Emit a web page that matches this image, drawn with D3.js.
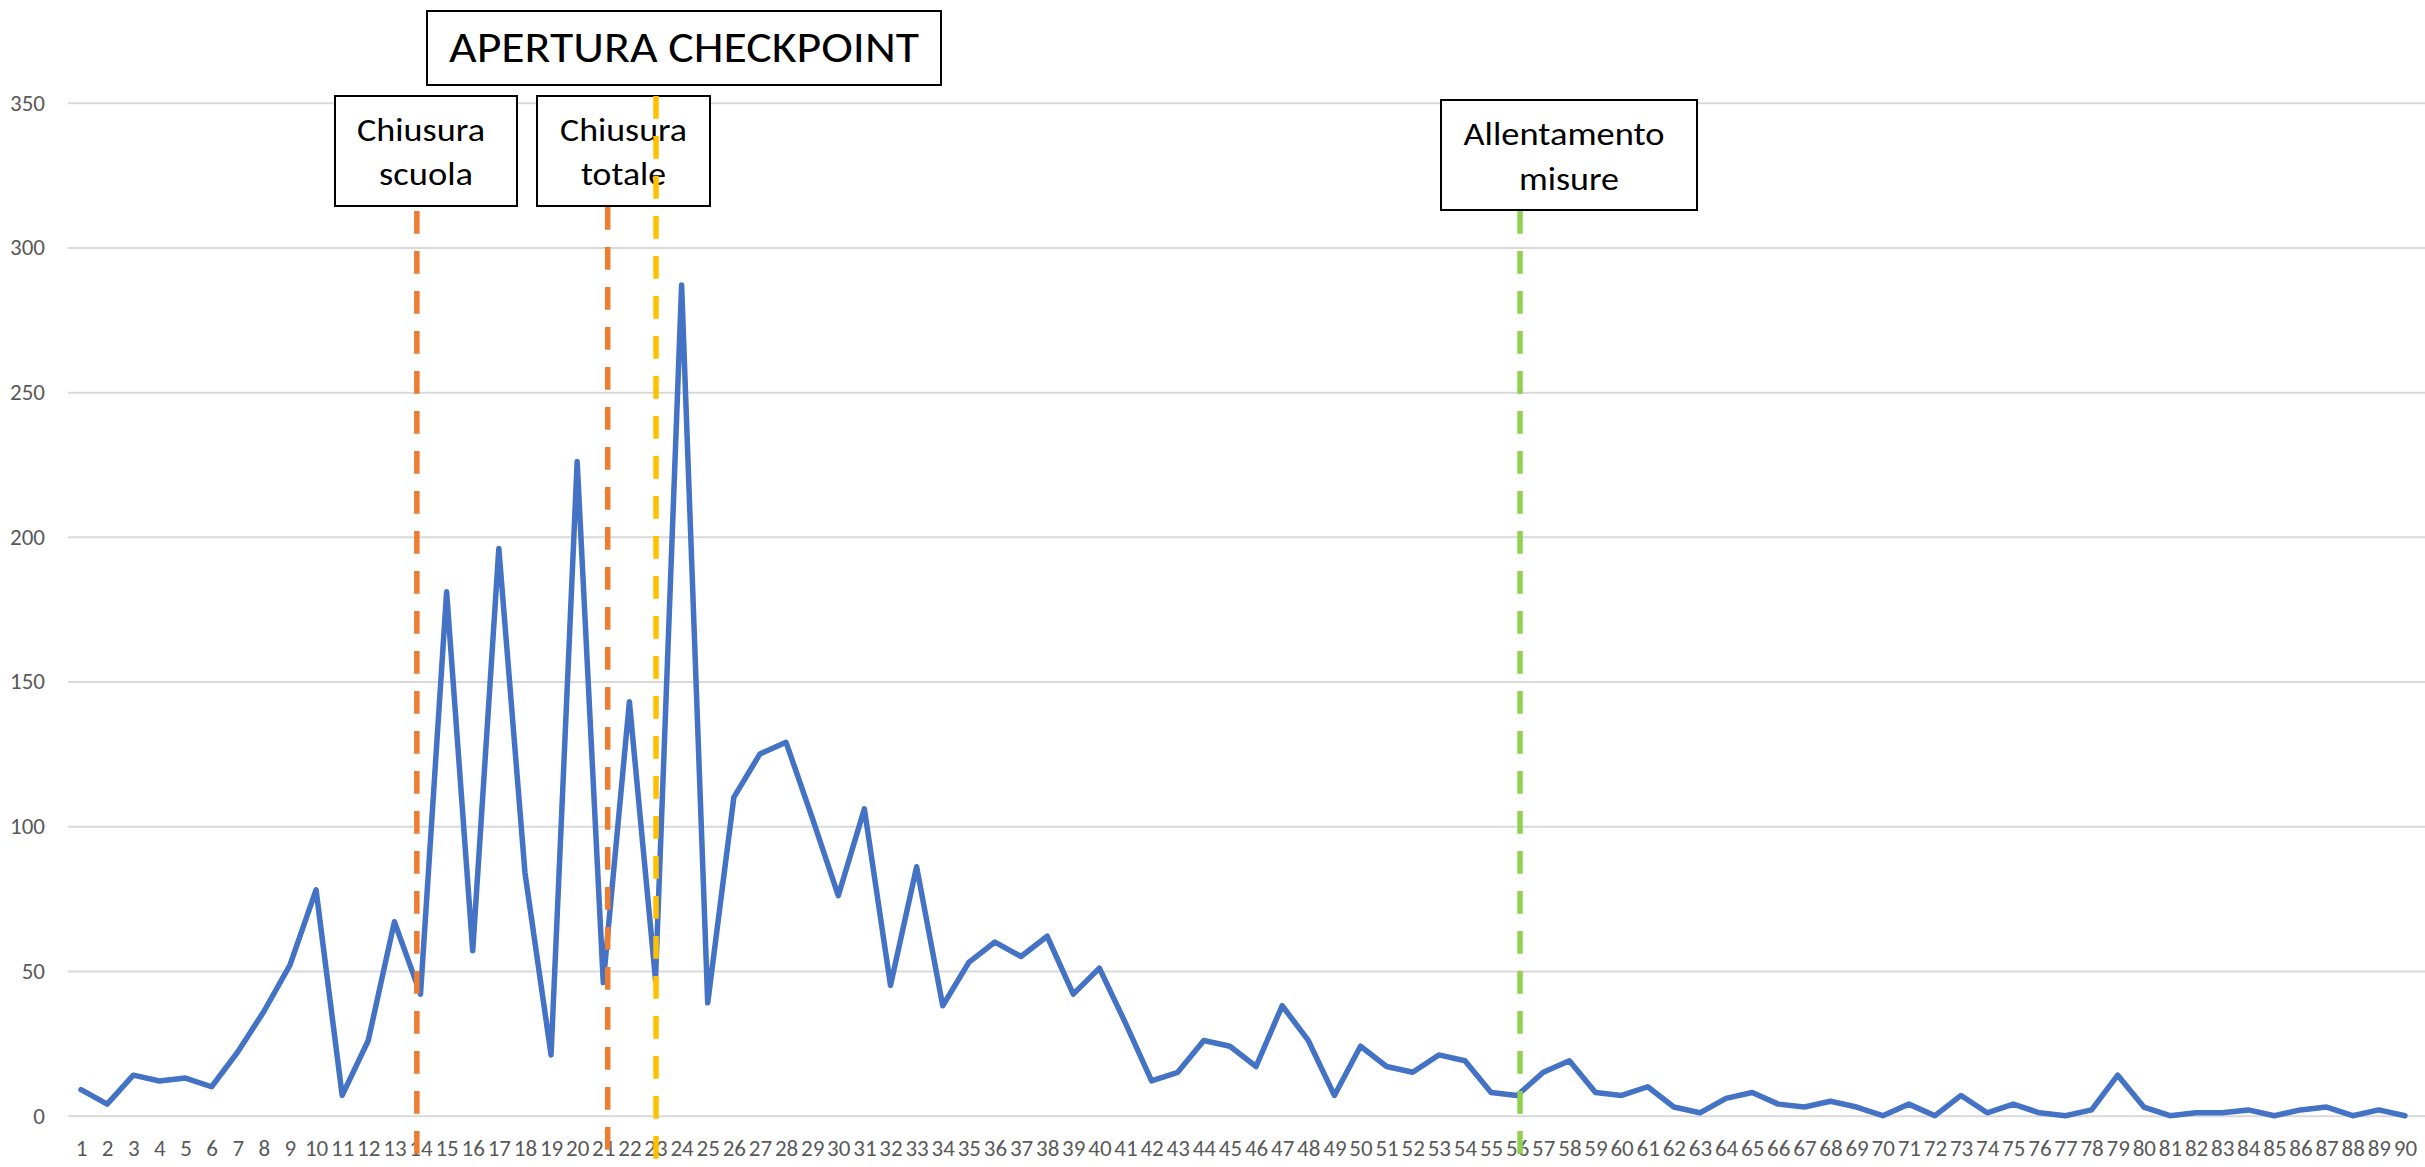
<!DOCTYPE html>
<html>
<head>
<meta charset="utf-8">
<script src="https://cdn.jsdelivr.net/npm/d3@7"></script>
<style>
  html, body { margin: 0; padding: 0; background: #fff; }
  svg { display: block; }
</style>
</head>
<body>
<svg id="chart" width="2425" height="1167"></svg>
<script>
// Daily new cases, days 1–90
const days = [1,2,3,4,5,6,7,8,9,10,11,12,13,14,15,16,17,18,19,20,
  21,22,23,24,25,26,27,28,29,30,31,32,33,34,35,36,37,38,39,40,
  41,42,43,44,45,46,47,48,49,50,51,52,53,54,55,56,57,58,59,60,
  61,62,63,64,65,66,67,68,69,70,71,72,73,74,75,76,77,78,79,80,
  81,82,83,84,85,86,87,88,89,90];
const cases = [9,4,14,12,13,10,22,36,52,78,
  7,26,67,42,181,57,196,84,21,226,
  46,143,47,287,39,110,125,129,103,76,
  106,45,86,38,53,60,55,62,42,51,
  32,12,15,26,24,17,38,26,7,24,
  17,15,21,19,8,7,15,19,8,7,
  10,3,1,6,8,4,3,5,3,0,
  4,0,7,1,4,1,0,2,14,3,
  0,1,1,2,0,2,3,0,2,0];
const yTicks = [0, 50, 100, 150, 200, 250, 300, 350];

// Measures and the day each one took effect
const eventLabels = [["Chiusura", "scuola"], ["Chiusura", "totale"], ["APERTURA CHECKPOINT"], ["Allentamento", "misure"]];
const eventDays = [13.86, 21.17, 23.02, 56.11];
const eventColors = ["#ed7d31", "#ed7d31", "#ffc000", "#92d050"];

// Callout boxes and marker extents (pixels)
const callouts = [
  { x: 335, y: 96, w: 182, h: 110, base: [141, 185], fit: [128, 94], shift: [-5, 0], size: 33, lineTop: 211 },
  { x: 537, y: 96, w: 173, h: 110, base: [141, 185], fit: [127, 85], shift: [0, 0], size: 33, lineTop: 207 },
  { x: 427, y: 11, w: 514, h: 74, base: [62], fit: [470], shift: [0], size: 43, lineTop: 96 },
  { x: 1441, y: 100, w: 256, h: 110, base: [145, 190], fit: [201, 100], shift: [-5, 0], size: 33, lineTop: 211 }
];

const W = 2425, H = 1167;
const plot = { left: 68, right: 2418, top: 102.7, bottom: 1115.7 };
const FONT = "Carlito, Calibri, Lato, 'Open Sans', sans-serif";

const svg = d3.select("#chart");
svg.append("rect").attr("width", W).attr("height", H).attr("fill", "#fff");

const x = d3.scalePoint().domain(days).range([plot.left, plot.right]).padding(0.5);
const xDay = d3.scaleLinear()
  .domain([days[0], days[days.length - 1]])
  .range([x(days[0]), x(days[days.length - 1])]);
const y = d3.scaleLinear().domain([0, 350]).range([plot.bottom, plot.top]);

// Value axis with horizontal gridlines
const yAxis = svg.append("g")
  .attr("transform", `translate(${plot.left},0)`)
  .call(d3.axisLeft(y).tickValues(yTicks).tickSize(-(W - plot.left)).tickPadding(23));
yAxis.select(".domain").remove();
yAxis.selectAll(".tick line").attr("stroke", "#d9d9d9").attr("stroke-width", 2);
yAxis.selectAll(".tick text")
  .attr("fill", "#595959")
  .style("font-family", FONT)
  .style("font-size", "23px");

// Category axis
const xAxis = svg.append("g")
  .attr("transform", `translate(0,${plot.bottom})`)
  .call(d3.axisBottom(x).tickSize(0));
xAxis.select(".domain").remove();
xAxis.selectAll(".tick text")
  .attr("y", 40).attr("dy", 0)
  .attr("fill", "#595959")
  .style("font-family", FONT)
  .style("font-size", "23px");

// Series line
const series = days.map((d, i) => ({ day: d, v: cases[i] }));
svg.append("path")
  .datum(series)
  .attr("fill", "none")
  .attr("stroke", "#4472c4")
  .attr("stroke-width", 5.5)
  .attr("stroke-linejoin", "round")
  .attr("stroke-linecap", "round")
  .attr("d", d3.line().x(d => x(d.day)).y(d => y(d.v)));

// Callout boxes
const boxes = svg.append("g");
callouts.forEach((c, i) => {
  boxes.append("rect")
    .attr("x", c.x).attr("y", c.y).attr("width", c.w).attr("height", c.h)
    .attr("fill", "#fff").attr("stroke", "#000").attr("stroke-width", 2);
  eventLabels[i].forEach((t, j) => {
    boxes.append("text")
      .attr("x", c.x + c.w / 2 + c.shift[j])
      .attr("y", c.base[j])
      .attr("text-anchor", "middle")
      .attr("textLength", c.fit[j])
      .attr("lengthAdjust", "spacingAndGlyphs")
      .attr("fill", "#000")
      .style("font-family", FONT)
      .style("font-size", c.size + "px")
      .text(t);
  });
});

// Dashed markers for each measure
svg.append("g").selectAll("line")
  .data(eventDays)
  .join("line")
  .attr("x1", d => xDay(d)).attr("x2", d => xDay(d))
  .attr("y1", (d, i) => callouts[i].lineTop)
  .attr("y2", H)
  .attr("stroke", (d, i) => eventColors[i])
  .attr("stroke-width", 5.5)
  .attr("stroke-dasharray", "22.7 17.3");
</script>
</body>
</html>
